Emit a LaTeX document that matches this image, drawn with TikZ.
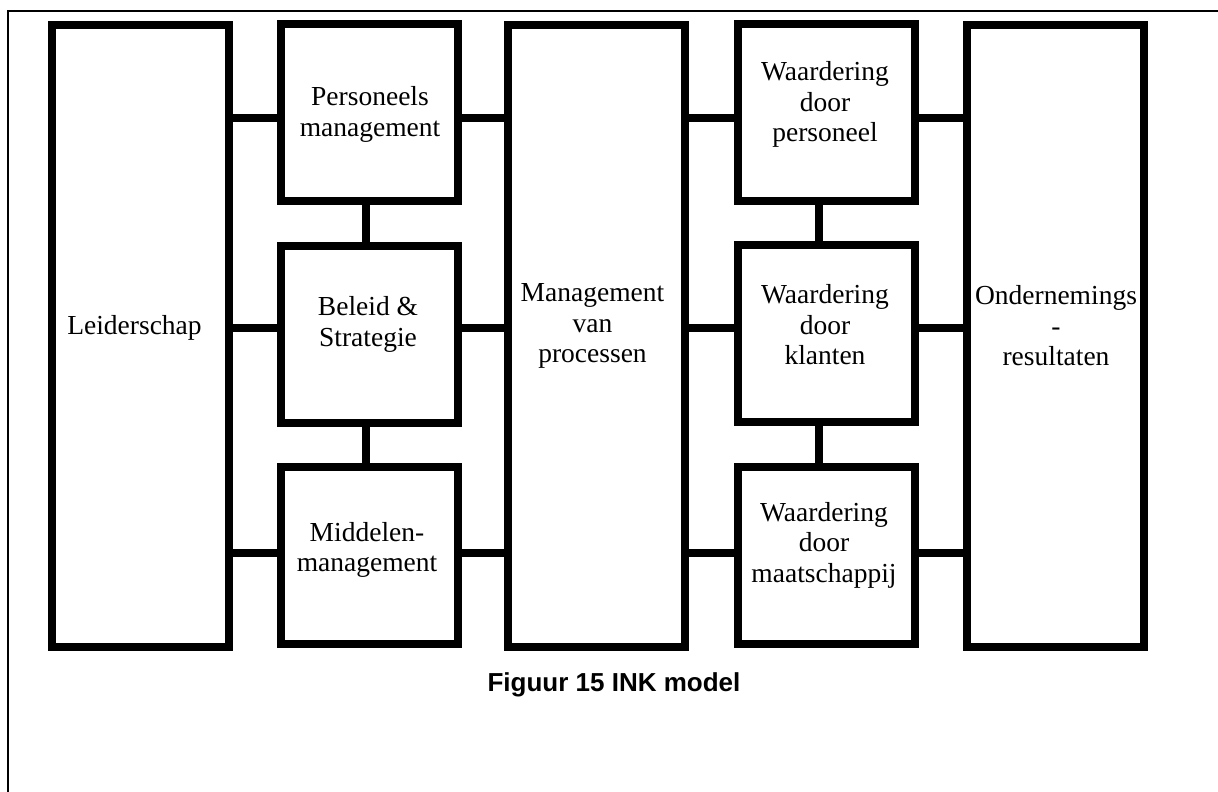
\documentclass[tikz,border=0pt]{standalone}
\usepackage{fontspec}
\setmainfont{Liberation Serif}
\newfontfamily\capfont{Liberation Sans}
\begin{document}
\begin{tikzpicture}[x=1pt,y=-1pt,
  frame/.style={line width=1.7pt},
  bigbox/.style={draw, line width=8pt, minimum width=177pt, minimum height=622pt, inner sep=0pt},
  smallbox/.style={draw, line width=8pt, minimum width=177pt, minimum height=177pt, inner sep=0pt},
  link/.style={line width=8.5pt},
  txt/.style={align=center, inner sep=0pt, font=\fontsize{27.5}{30.5}\selectfont},
  caption/.style={inner sep=0pt, anchor=base, font=\capfont\bfseries\fontsize{26}{30}\selectfont}]
\useasboundingbox (0,0) rectangle (1218,792);
% page frame (left and top edges)
\draw[frame] (8,792) -- (8,11) -- (1218,11);

% boxes
\node[bigbox] (lead) at (140,336) {};
\node[smallbox] (pm) at (369,112.5) {};
\node[smallbox] (bs) at (369,334) {};
\node[smallbox] (mm) at (369,555.5) {};
\node[bigbox] (proc) at (596.5,336) {};
\node[smallbox] (wp) at (826.5,112.5) {};
\node[smallbox] (wk) at (826.5,333.5) {};
\node[smallbox] (wm) at (826.5,555) {};
\node[bigbox] (res) at (1055,336) {};

% box texts
\node[txt] (tlead) at (134.5,327.6) {Leiderschap};
\node[txt] (tpm) at (370,114.2) {Personeels\\management};
\node[txt] (tbs) at (368,324.4) {Beleid \&\\Strategie};
\node[txt] (tmm) at (367,550) {Middelen-\\management};
\node[txt] (tproc) at (592.5,326) {Management\\van\\processen};
\node[txt] (twp) at (825,104.7) {Waardering\\door\\personeel};
\node[txt] (twk) at (825,325) {Waardering\\door\\klanten};
\node[txt] (twm) at (824,545) {Waardering\\door\\maatschappij};
\node[txt] (tres) at (1056,326) {Ondernemings\\-\\resultaten};

% connector rows and columns
\coordinate (r1) at (0,118);
\coordinate (r2) at (0,328);
\coordinate (r3) at (0,553);
\coordinate (c2) at (366,0);
\coordinate (c4) at (819,0);

\draw[link] (lead.east |- r1) -- (pm.west |- r1);
\draw[link] (lead.east |- r2) -- (bs.west |- r2);
\draw[link] (lead.east |- r3) -- (mm.west |- r3);
\draw[link] (pm.east |- r1) -- (proc.west |- r1);
\draw[link] (bs.east |- r2) -- (proc.west |- r2);
\draw[link] (mm.east |- r3) -- (proc.west |- r3);
\draw[link] (proc.east |- r1) -- (wp.west |- r1);
\draw[link] (proc.east |- r2) -- (wk.west |- r2);
\draw[link] (proc.east |- r3) -- (wm.west |- r3);
\draw[link] (wp.east |- r1) -- (res.west |- r1);
\draw[link] (wk.east |- r2) -- (res.west |- r2);
\draw[link] (wm.east |- r3) -- (res.west |- r3);
\draw[link] (pm.south -| c2) -- (bs.north -| c2);
\draw[link] (bs.south -| c2) -- (mm.north -| c2);
\draw[link] (wp.south -| c4) -- (wk.north -| c4);
\draw[link] (wk.south -| c4) -- (wm.north -| c4);

% caption
\node[caption] (cap) at (614,691.7) {Figuur 15 INK model};
\end{tikzpicture}
\end{document}
